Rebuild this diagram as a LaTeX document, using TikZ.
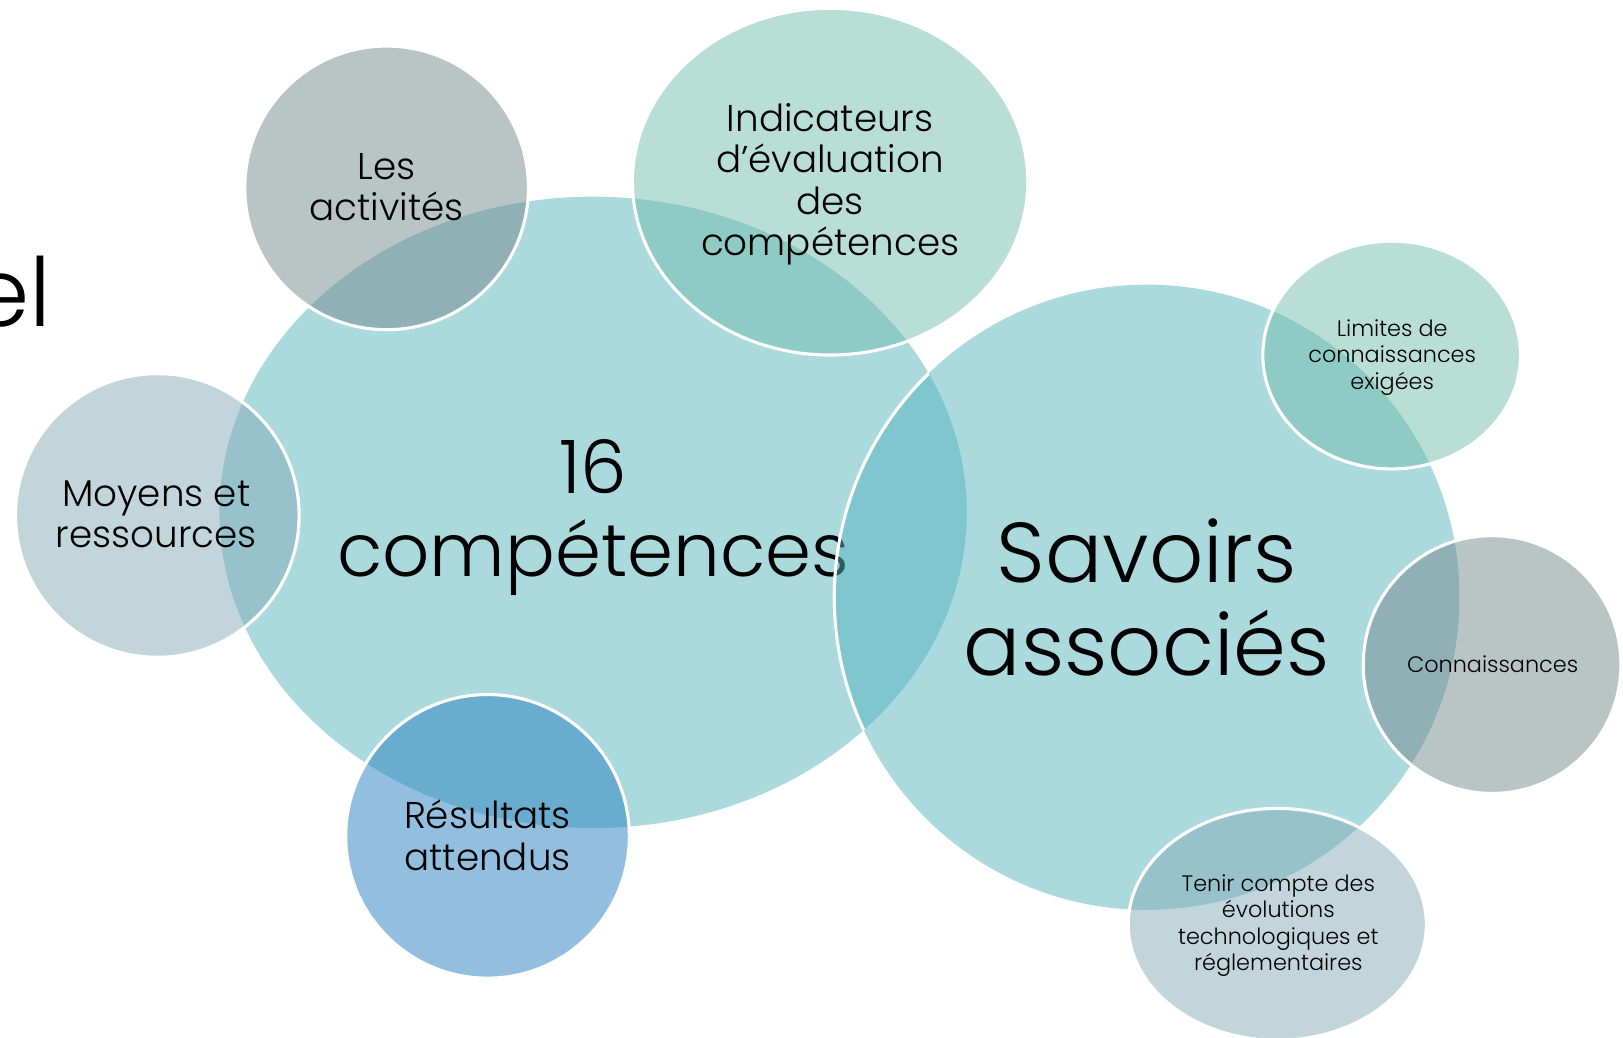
\documentclass[tikz,border=0pt]{standalone}
\usepackage{fontspec}
\setmainfont{Poppins}[UprightFont=* Light]
\definecolor{bigc}{HTML}{57B5BF}
\definecolor{grayc}{HTML}{758B8D}
\definecolor{mintc}{HTML}{75BFAD}
\definecolor{bluegray}{HTML}{85ADB9}
\definecolor{bluec}{HTML}{2781C1}
\tikzset{
  bubble/.style={fill opacity=0.5},
  rim/.style={draw=white, line width=1.5pt},
  lbl/.style={align=center, inner sep=0pt, text=black},
  hugefont/.style={font=\fontsize{41}{45}\selectfont},
  titlefont/.style={font=\fontsize{46}{46}\selectfont},
  bigfont/.style={font=\fontsize{35.7}{40}\selectfont},
  midfont/.style={font=\fontsize{18}{20}\selectfont},
  smallfont/.style={font=\fontsize{10.8}{12.8}\selectfont},
}
\begin{document}
\begin{tikzpicture}[x=0.5pt,y=-0.5pt]
\useasboundingbox (0,0) rectangle (1568,1002);
\fill[white] (0,0) rectangle (1568,1002);
% title fragment
\node[lbl, titlefont, anchor=base east] (title) at (50,315) {el};
% big left bubble
\fill[bigc, bubble] (573,495) ellipse [x radius=361, y radius=305];
\node[lbl, bigfont] (comp) at (573,500) {16\\compétences};
% small bubbles around the left one
\fill[grayc, bubble] (373.5,181.5) circle [radius=137];
\draw[rim] (373.5,181.5) circle [radius=137];
\node[lbl, midfont] (act) at (373.5,181) {Les\\activités};
\fill[mintc, bubble] (802,175.5) ellipse [x radius=191, y radius=167.5];
\draw[rim] (802,175.5) ellipse [x radius=191, y radius=167.5];
\node[lbl, midfont] (ind) at (802,178) {Indicateurs\\d’évaluation\\des\\compétences};
\fill[bluegray, bubble] (152,498) circle [radius=137];
\draw[rim] (152,498) circle [radius=137];
\node[lbl, midfont] (moy) at (151,497) {Moyens et\\ressources};
\fill[bluec, bubble] (471,808) circle [radius=137];
\draw[rim] (471,808) circle [radius=137];
\node[lbl, midfont] (res) at (471,807) {Résultats\\attendus};
% big right bubble
\fill[bigc, bubble] (1108,577) circle [radius=302];
\begin{scope}
  \clip (573,495) ellipse [x radius=361, y radius=305];
  \draw[rim] (1108,577) circle [radius=302];
\end{scope}
\node[lbl, hugefont] (sav) at (1108,577) {Savoirs\\associés};
% small bubbles around the right one
\fill[mintc, bubble] (1344.5,343) ellipse [x radius=124.5, y radius=110];
\draw[rim] (1344.5,343) ellipse [x radius=124.5, y radius=110];
\node[lbl, smallfont] (lim) at (1345,345) {Limites de\\connaissances\\exigées};
\fill[grayc, bubble] (1441.5,642) circle [radius=124.5];
\draw[rim] (1441.5,642) circle [radius=124.5];
\node[lbl, smallfont] (con) at (1442,642) {Connaissances};
\fill[bluegray, bubble] (1234,893) ellipse [x radius=144, y radius=112];
\draw[rim] (1234,893) ellipse [x radius=144, y radius=112];
\node[lbl, smallfont] (ten) at (1235,894) {Tenir compte des\\évolutions\\technologiques et\\réglementaires};
\end{tikzpicture}
\end{document}
